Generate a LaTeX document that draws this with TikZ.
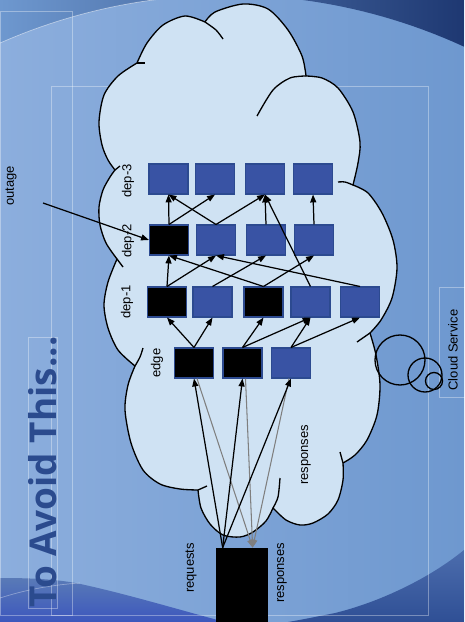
\documentclass[tikz,border=0pt]{standalone}
\usepackage{fontspec}
\setmainfont{Liberation Sans}
\newfontfamily\titlefont{Open Sans}
\usetikzlibrary{arrows.meta,calc}
\definecolor{cloudfill}{HTML}{CFE2F3}
\definecolor{boxblue}{HTML}{3953A4}
\definecolor{boxline}{HTML}{2C4A90}
\definecolor{titleblue}{HTML}{2B4B8E}
\definecolor{bgL}{HTML}{8CAEDD}
\definecolor{bgR}{HTML}{6E98CF}
\definecolor{topdark}{HTML}{1E3872}
\definecolor{topmid}{HTML}{3F70B8}
\definecolor{wave}{HTML}{4C6DAD}
\definecolor{wavedark}{HTML}{2F4F95}
\definecolor{respgray}{HTML}{7F7F7F}
\begin{document}
\begin{tikzpicture}[x=0.02cm,y=-0.02cm,
  bx/.style={draw=boxline, fill=boxblue, line width=0.6pt, minimum width=0.78cm, minimum height=0.6cm, inner sep=0pt},
  bk/.style={draw=boxline, fill=black, line width=0.6pt, minimum width=0.78cm, minimum height=0.6cm, inner sep=0pt},
  lbl/.style={font=\fontsize{7.4}{9}\selectfont, inner sep=0pt, rotate=90},
  arr/.style={line width=0.7pt, -{Triangle[length=4.5pt,width=3.4pt]}},
  garr/.style={line width=0.6pt, respgray, -{Triangle[length=4.5pt,width=3.4pt]}},
  frame/.style={draw=white, draw opacity=0.35, line width=0.4pt},
  cloudline/.style={line width=0.75pt, line join=round}
]
\useasboundingbox (0,0) rectangle (464,622);
% background
\shade[left color=bgL, right color=bgR] (0,0) rectangle (464,622);
\shade[left color=bgR, middle color=topmid, right color=topdark]
  (0,-2) -- plot[domain=0:464, samples=47] (\x, {560-100*sqrt(31.9225-((\x-228)/100)^2)}) -- (464,-2) -- cycle;
\draw[white, opacity=0.5, line width=0.4pt]
  plot[domain=0:190, samples=20] (\x, {560-100*sqrt(31.9225-((\x-228)/100)^2)});
\shade[top color=wave!80!bgL, bottom color=wave!80!blue] (0,578) .. controls (30,578) and (60,579) .. (85,585) .. controls (130,595) and (180,610) .. (225,622) -- (0,622) -- cycle;
\draw[white, opacity=0.35, line width=0.4pt] (0,598) .. controls (25,590) and (50,585) .. (80,583);
\shade[top color=wave, bottom color=wavedark] (464,550) .. controls (430,578) and (380,602) .. (335,613) .. controls (315,617) and (300,620) .. (288,622) -- (464,622) -- cycle;
% frames
\draw[frame] (51,86) rectangle (428,615);
\draw[frame] (0,11) rectangle (72,615);
\draw[frame] (28,337) rectangle (57,608);
\draw[frame] (439,287) rectangle (470,397);
% title
\node[rotate=90, inner sep=0pt, text=titleblue, font=\titlefont\bfseries\fontsize{21}{25}\selectfont] (title) at (43,472) {To Avoid This...};
% cloud
\draw[cloudline, fill=cloudfill]
  plot[smooth] coordinates {(137,63) (147,43) (163,25) (185,16) (205,22)}
  -- plot[smooth] coordinates {(205,22) (215,12) (243,4) (268,9) (288,30) (302,56) (306,76)}
  -- plot[smooth] coordinates {(306,76) (322,78) (338,88) (353,112) (360,142) (358,163) (353,185)}
  -- plot[smooth] coordinates {(353,185) (368,193) (382,213) (393,240) (397,268) (392,298) (381,320) (370,333)}
  -- plot[smooth] coordinates {(370,333) (376,355) (380,385) (377,415) (367,440) (355,455) (343,463)}
  -- plot[smooth] coordinates {(343,463) (343,480) (338,500) (328,514) (313,523) (300,525) (286,520) (273,508)}
  -- plot[smooth] coordinates {(273,508) (266,521) (253,532) (240,537) (223,535) (210,524) (201,508) (198,490)}
  -- plot[smooth] coordinates {(198,490) (180,489) (160,484) (143,470) (131,443) (125,410) (128,385) (135,366)}
  -- plot[smooth] coordinates {(135,366) (118,350) (108,328) (104,305) (108,282) (117,259)}
  -- plot[smooth] coordinates {(117,259) (106,243) (100,225) (99,207) (103,190) (110,177) (115,170)}
  -- plot[smooth] coordinates {(115,170) (108,160) (102,145) (99,122) (104,95) (118,76) (137,63)}
  -- cycle;
% inner ticks of the cloud
\draw[cloudline] plot[smooth] coordinates {(205,22) (216,30) (223,39)};
\draw[cloudline] plot[smooth] coordinates {(306,76) (290,78) (273,90) (257,116)};
\draw[cloudline] plot[smooth] coordinates {(353,185) (345,182) (338,182)};
\draw[cloudline] (370,333) -- (357,342);
\draw[cloudline] (343,463) -- (340,452);
\draw[cloudline] plot[smooth] coordinates {(273,508) (278,497) (280,478)};
\draw[cloudline] (198,490) -- (207,486);
\draw[cloudline] plot[smooth] coordinates {(135,366) (140,357) (143,348)};
\draw[cloudline] (117,259) -- (123,267);
\draw[cloudline] (115,170) -- (120,166);
\draw[cloudline] (137,63) -- (145,63);
% thought bubbles
\draw[cloudline] (400,360) circle (25);
\draw[cloudline] (425,375) circle (17);
\draw[cloudline] (434,381) circle (8.5);
% boxes
\node[bx] (c1) at (168.5,179) {};
\node[bx] (c2) at (215,179) {};
\node[bx] (c3) at (265,179) {};
\node[bx] (c4) at (313,179) {};
\node[bk] (b1) at (169,240) {};
\node[bx] (b2) at (216,240) {};
\node[bx] (b3) at (266,240) {};
\node[bx] (b4) at (314,240) {};
\node[bk] (a1) at (167,302) {};
\node[bx] (a2) at (212.5,302) {};
\node[bk] (a3) at (263.5,302) {};
\node[bx] (a4) at (310.5,302) {};
\node[bx] (a5) at (360,302) {};
\node[bk] (e1) at (194,363) {};
\node[bk] (e2) at (242.5,363) {};
\node[bx] (e3) at (291,363) {};
\node[draw=black, fill=black, minimum width=1.02cm, minimum height=1.46cm, inner sep=0pt] (client) at (241.5,584.5) {};
\coordinate (req) at ($(client.north west)+(7,0)$);
\coordinate (resp) at ($(client.north west)+(37,0)$);
\coordinate (out) at (43,203);
% labels
\node[lbl] (l3) at (128,181) {dep-3};
\node[lbl] (l2) at (128,241) {dep-2};
\node[lbl] (l1) at (127,302) {dep-1};
\node[lbl] (le) at (157,363) {edge};
\node[lbl] (lo) at (11,186) {outage};
\node[lbl] (lr) at (306,455) {responses};
\node[lbl] (lq) at (191,568) {requests};
\node[lbl] (lp) at (282,573) {responses};
\node[lbl] (lc) at (453,350) {Cloud Service};
% connectors dep-2 -> dep-3
\draw[arr] (b1.north) -- (c1.south);
\draw[arr] (b1.north) -- (c2.south);
\draw[arr] (b2.north) -- (c1.south);
\draw[arr] (b2.north) -- (c3.south);
\draw[arr] (b3.north) -- (c3.south);
\draw[arr] (a4.north) -- (c3.south);
\draw[arr] (b4.north) -- (c4.south);
% dep-1 -> dep-2
\draw[arr] (a1.north) -- (b1.south);
\draw[arr] (a1.north) -- (b2.south);
\draw[arr] (a2.north) -- (b3.south);
\draw[arr] (a3.north) -- (b1.south);
\draw[arr] (a3.north) -- (b4.south);
\draw[arr] (a5.north) -- (b2.south);
% edge -> dep-1
\draw[arr] (e1.north) -- (a1.south);
\draw[arr] (e1.north) -- (a2.south);
\draw[arr] (e2.north) -- (a3.south);
\draw[arr] (e2.north) -- (a4.south);
\draw[arr] (e3.north) -- (a4.south);
\draw[arr] (e3.north) -- (a5.south);
% client <-> edge
\draw[garr] ($(e1.south)+(3,0)$) -- (resp);
\draw[garr] ($(e2.south)+(3,0)$) -- (resp);
\draw[garr] ($(e3.south)+(-2,0)$) -- (resp);
\draw[arr] (req) -- (e1.south);
\draw[arr] (req) -- (e2.south);
\draw[arr] (req) -- (e3.south);
% outage
\draw[arr] (out) -- (b1.west);
\end{tikzpicture}
\end{document}
